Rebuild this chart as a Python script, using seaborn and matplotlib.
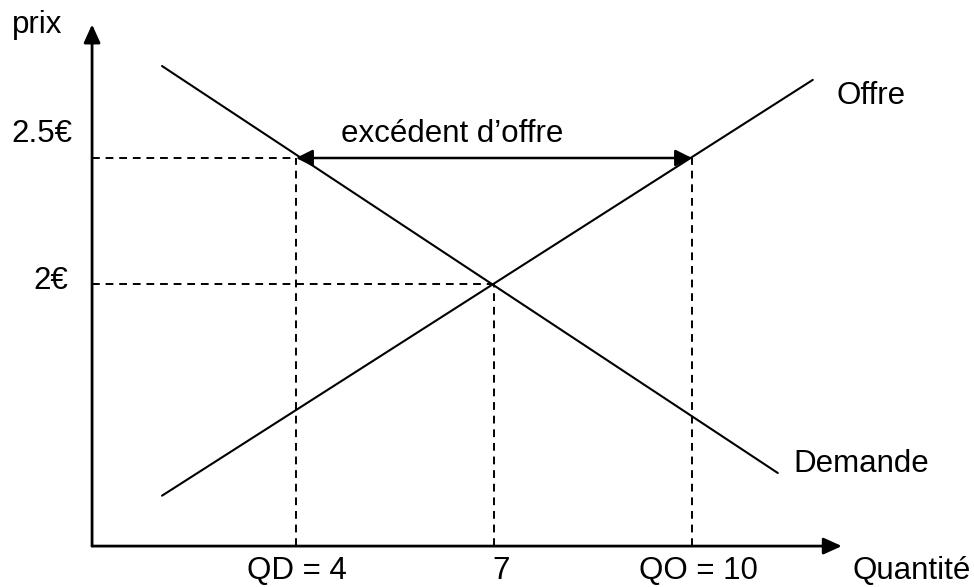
import matplotlib
matplotlib.use("Agg")
import matplotlib.pyplot as plt
import seaborn as sns
import pandas as pd

# ---- data ----
qd, qe, qo = 4, 7, 10                 # quantités
p_eq, p_high = 2.0, 2.5               # prix
demand_q = [1.97, 11.30]
demand_p = [2.865, 1.25]
supply_q = [1.97, 11.83]
supply_p = [1.16, 2.81]
axis_q0, axis_q_end = 0.91, 12.27     # axe horizontal
axis_p0, axis_p_end = 0.96, 3.03      # axe vertical
x_labels = ["QD = 4", "7", "QO = 10"]
y_labels = ["2.5€", "2€"]

sns.set_theme(style="white")
plt.rcParams["font.family"] = ["Liberation Sans", "DejaVu Sans"]

W, H = 974, 587
fig = plt.figure(figsize=(W / 100, H / 100), dpi=100)
ax = fig.add_axes([0, 0, 1, 1])

df = pd.DataFrame({
    "Q": demand_q + supply_q,
    "P": demand_p + supply_p,
    "courbe": ["Demande"] * 2 + ["Offre"] * 2,
})
sns.lineplot(data=df, x="Q", y="P", hue="courbe", units="courbe", estimator=None,
             palette={"Demande": "black", "Offre": "black"}, legend=False,
             lw=1.5, sort=False, ax=ax)

ax.set_xlim(7 - 494 / 66, 7 + 480 / 66)
ax.set_ylim(2 - 303 / 252, 2 + 284 / 252)
ax.axis("off")

axis_arrow = dict(arrowstyle="-|>,head_length=0.55,head_width=0.25",
                  mutation_scale=20, lw=2, color="black", shrinkA=0, shrinkB=0)
ax.annotate("", xy=(axis_q_end, axis_p0), xytext=(axis_q0, axis_p0), arrowprops=axis_arrow)
ax.annotate("", xy=(axis_q0, axis_p_end), xytext=(axis_q0, axis_p0), arrowprops=axis_arrow)

dash = dict(color="black", lw=1.4, ls=(0, (4, 3)))
ax.plot([axis_q0, qd], [p_high, p_high], **dash)
ax.plot([axis_q0, qe], [p_eq, p_eq], **dash)
ax.plot([qd, qd], [axis_p0, p_high], **dash)
ax.plot([qe, qe], [axis_p0, p_eq], **dash)
ax.plot([qo, qo], [axis_p0, p_high], **dash)

ax.annotate("", xy=(qo, p_high), xytext=(qd, p_high),
            arrowprops=dict(arrowstyle="<|-|>,head_length=0.5,head_width=0.25",
                            mutation_scale=20, lw=1.8, color="black",
                            shrinkA=0, shrinkB=0))

FS = 22.5


def ptext(x, y, s, ha, va="baseline"):
    fig.text(x / W, 1 - y / H, s, ha=ha, va=va, fontsize=FS, color="black")


ptext(12, 33, "prix", "left")
ptext(72, 142, y_labels[0], "right")
ptext(68, 289, y_labels[1], "right")
ptext(452, 142, "excédent d’offre", "center")
ptext(837, 104, "Offre", "left")
ptext(793, 472, "Demande", "left")
ptext(297, 586, x_labels[0], "center", "bottom")
ptext(501, 586, x_labels[1], "center", "bottom")
ptext(698, 586, x_labels[2], "center", "bottom")
ptext(852, 586, "Quantité", "left", "bottom")

fig.savefig("out.png", dpi=100)
